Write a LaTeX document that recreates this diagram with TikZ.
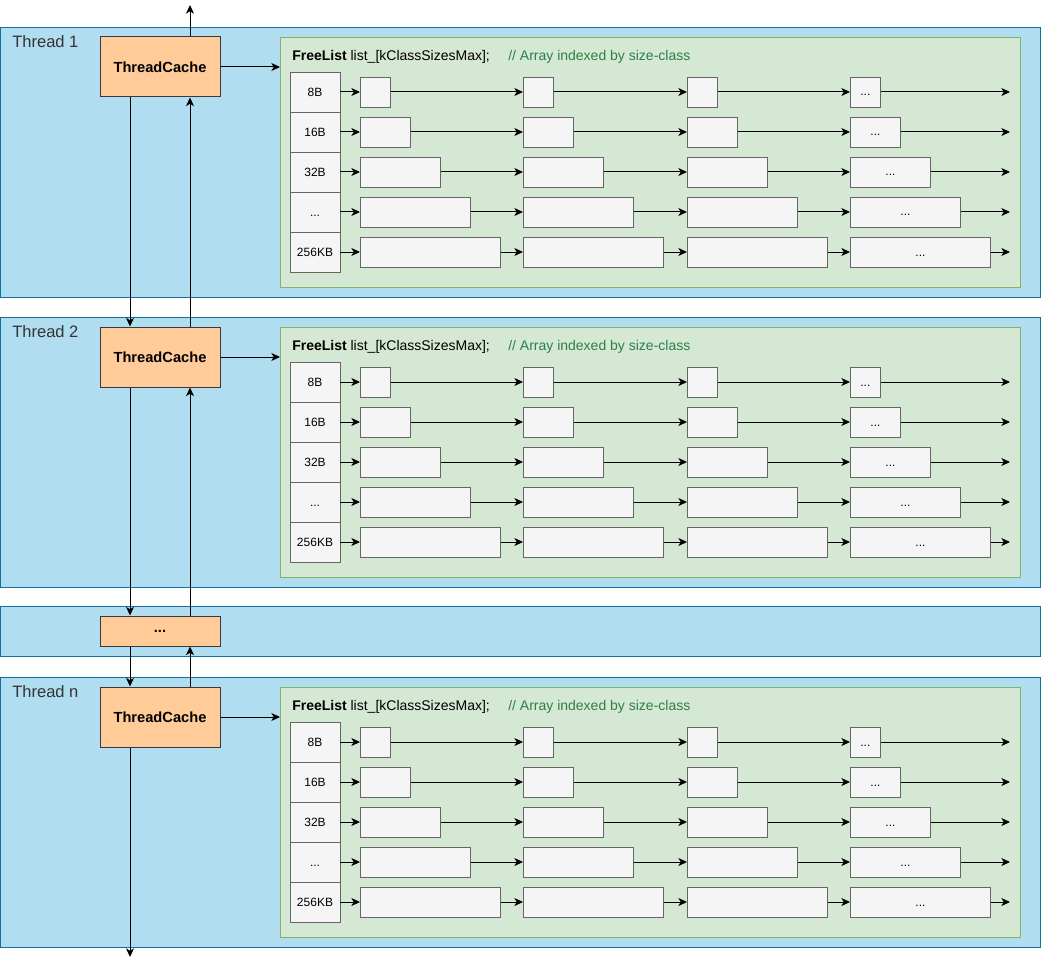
\documentclass[tikz,border=0pt]{standalone}
\usepackage{fontspec}
\setmainfont{Liberation Sans}
\usetikzlibrary{arrows.meta,positioning}

\definecolor{threadblue}{HTML}{B1DDF0}
\definecolor{threadedge}{HTML}{10739E}
\definecolor{listgreen}{HTML}{D5E8D4}
\definecolor{listedge}{HTML}{82B366}
\definecolor{cacheorange}{HTML}{FFCC99}
\definecolor{cacheedge}{HTML}{36393D}
\definecolor{cellgray}{HTML}{F5F5F5}
\definecolor{celledge}{HTML}{666666}
\definecolor{commentgreen}{HTML}{2D8045}

\newcommand{\threedots}{...}

\tikzstyle{panel} = [rectangle, draw=threadedge, fill=threadblue, line width=0.75pt, anchor=north west, minimum width=780pt, inner sep=0pt]
\tikzstyle{freelist} = [rectangle, draw=listedge, fill=listgreen, line width=0.75pt, anchor=north west, minimum width=555pt, minimum height=187.5pt, inner sep=0pt]
\tikzstyle{cache} = [rectangle, draw=cacheedge, fill=cacheorange, text centered, minimum width=90pt, minimum height=45pt, font=\fontsize{11}{13}\selectfont\bfseries, line width=0.75pt]
\tikzstyle{cell} = [rectangle, draw=celledge, fill=cellgray, minimum width=37.5pt, minimum height=30pt, inner sep=0pt, text height=6.5pt, text depth=0pt, font=\fontsize{9}{11}\selectfont, line width=0.6pt]
\tikzstyle{block} = [rectangle, draw=celledge, fill=cellgray, minimum height=22.5pt, inner sep=0pt, anchor=west, text height=6pt, text depth=0pt, font=\fontsize{9}{11}\selectfont, line width=0.6pt]
\tikzstyle{link} = [-{Stealth[length=6.5pt,width=6pt,inset=1.8pt]}, line width=0.75pt]

\begin{document}
\begin{tikzpicture}[x=0.75pt, y=-0.75pt]
    \useasboundingbox (0,0) rectangle (1041,966);

    % thread panels
    \foreach \p/\oy/\name in {1/0/Thread 1, 2/290/Thread 2, n/650/Thread n} {
        \node[panel, minimum height=202.5pt] (panel\p) at (0,27+\oy) {};
        \node[anchor=west, inner sep=0pt, text=black!80, font=\fontsize{12.4}{15}\selectfont] (label\p) at (12,42+\oy) {\name};
        \node[freelist] (list\p) at (280,37+\oy) {};
        \node[cache] (tc\p) at (160,67+\oy) {ThreadCache};
        \node[anchor=west, inner sep=0pt, font=\fontsize{10.5}{13}\selectfont] (title\p) at (292,57+\oy) {\textbf{FreeList} list\_[kClassSizesMax];};
        \node[anchor=west, inner sep=0pt, text=commentgreen, font=\fontsize{10.5}{13}\selectfont] (comment\p) at (508,57+\oy) {// Array indexed by size-class};
        \draw[link] (tc\p.east) -- (tc\p -| list\p.west);

        % size classes
        \foreach \r/\lab/\w in {1/8B/22.5, 2/16B/37.5, 3/32B/60, 4/\threedots/82.5, 5/256KB/105} {
            \node[cell] (cell\p-\r) at (315,52+40*\r+\oy) {\lab};
            \node[block, minimum width=\w pt] (blk\p-\r-1) at (360,52+40*\r+\oy) {};
            \node[block, minimum width=\w pt] (blk\p-\r-2) at (523,52+40*\r+\oy) {};
            \node[block, minimum width=\w pt] (blk\p-\r-3) at (687,52+40*\r+\oy) {};
            \node[block, minimum width=\w pt] (blk\p-\r-4) at (850,52+40*\r+\oy) {\threedots};
            \coordinate (end\p-\r) at (1010,52+40*\r+\oy);
            \draw[link] (cell\p-\r.east) -- (blk\p-\r-1.west);
            \draw[link] (blk\p-\r-1.east) -- (blk\p-\r-2.west);
            \draw[link] (blk\p-\r-2.east) -- (blk\p-\r-3.west);
            \draw[link] (blk\p-\r-3.east) -- (blk\p-\r-4.west);
            \draw[link] (blk\p-\r-4.east) -- (end\p-\r);
        }
    }

    % the threads in between
    \node[panel, minimum height=37.5pt] (panelmid) at (0,606) {};
    \node[cache, minimum height=22.5pt] (tcmid) at (160,631) {\threedots};

    % thread cache chain
    \coordinate (up) at (190,5);
    \coordinate (down) at (130,957);
    \draw[link] ([xshift=22.5pt]tc1.north) -- (up);
    \draw[link] ([xshift=-22.5pt]tc1.south) -- ([xshift=-22.5pt]tc2.north);
    \draw[link] ([xshift=22.5pt]tc2.north) -- ([xshift=22.5pt]tc1.south);
    \draw[link] ([xshift=-22.5pt]tc2.south) -- ([xshift=-22.5pt]tcmid.north);
    \draw[link] ([xshift=22.5pt]tcmid.north) -- ([xshift=22.5pt]tc2.south);
    \draw[link] ([xshift=-22.5pt]tcmid.south) -- ([xshift=-22.5pt]tcn.north);
    \draw[link] ([xshift=22.5pt]tcn.north) -- ([xshift=22.5pt]tcmid.south);
    \draw[link] ([xshift=-22.5pt]tcn.south) -- (down);
\end{tikzpicture}
\end{document}
